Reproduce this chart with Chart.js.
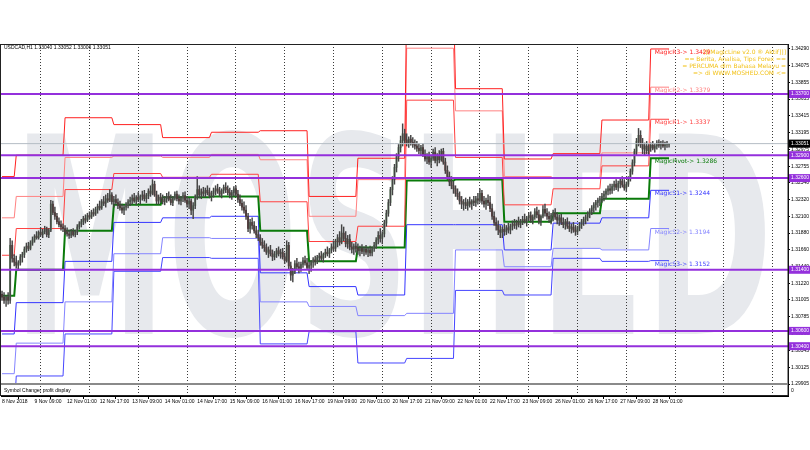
<!DOCTYPE html>
<html>
<head>
<meta charset="utf-8">
<script src="https://cdn.jsdelivr.net/npm/chart.js@4.4.0/dist/chart.umd.min.js"></script>
<style>
  html, body { margin: 0; padding: 0; background: #fff; }
  #wrap { width: 810px; height: 450px; }
</style>
</head>
<body>
<div id="wrap"><canvas id="chart" width="810" height="450"></canvas></div>
<script>
// USDCAD H1, 8 Nov 17:00 -> 28 Nov 09:00 (bar index 0..328)
const opens = [
  1.3108,1.3104,1.3100,1.3104,1.3100,1.3172,1.3155,
  1.3150,1.3146,1.3149,1.3157,1.3160,1.3167,1.3171,1.3168,1.3175,1.3179,1.3184,1.3182,1.3189,1.3186,1.3190,1.3193,1.3186,1.3192,1.3226,1.3215,1.3210,1.3203,1.3199,1.3196,
  1.3194,1.3190,1.3187,1.3185,1.3190,1.3186,1.3189,1.3196,1.3200,1.3203,1.3207,1.3205,1.3211,1.3209,1.3215,1.3213,1.3219,1.3223,1.3221,1.3229,1.3227,1.3233,1.3231,1.3238,
  1.3229,1.3232,1.3228,1.3224,1.3221,1.3218,1.3222,1.3225,1.3229,1.3231,1.3234,1.3230,1.3235,1.3232,1.3236,1.3238,1.3233,1.3237,1.3243,1.3240,1.3252,1.3238,1.3230,1.3235,
  1.3232,1.3229,1.3233,1.3236,1.3232,1.3228,1.3234,1.3239,1.3233,1.3230,1.3234,1.3237,1.3231,1.3226,1.3230,1.3218,1.3224,1.3235,1.3245,1.3238,1.3242,1.3240,1.3244,1.3241,
  1.3237,1.3240,1.3243,1.3246,1.3243,1.3239,1.3244,1.3248,1.3245,1.3241,1.3238,1.3241,1.3246,1.3239,1.3232,1.3227,1.3222,1.3218,1.3210,1.3194,1.3202,1.3198,1.3191,1.3186,
  1.3182,1.3176,1.3172,1.3169,1.3163,1.3166,1.3161,1.3157,1.3160,1.3165,1.3161,1.3163,1.3157,1.3152,1.3172,1.3145,1.3133,1.3138,1.3148,1.3144,1.3142,1.3147,1.3152,1.3149,
  1.3143,1.3146,1.3150,1.3153,1.3151,1.3156,1.3158,1.3155,1.3160,1.3163,1.3161,1.3166,1.3170,1.3168,1.3177,1.3182,1.3176,1.3188,1.3181,1.3174,1.3180,1.3170,1.3167,1.3171,
  1.3168,1.3165,1.3168,1.3164,1.3167,1.3163,1.3166,1.3162,1.3168,1.3172,1.3179,1.3185,1.3181,1.3187,1.3201,1.3214,1.3228,1.3245,1.3258,1.3274,1.3288,1.3300,1.3309,1.3318,
  1.3310,1.3306,1.3311,1.3307,1.3304,1.3302,1.3299,1.3296,1.3300,1.3291,1.3285,1.3288,1.3281,1.3286,1.3294,1.3283,1.3289,1.3284,1.3295,1.3281,1.3270,1.3262,1.3255,1.3250,
  1.3246,1.3240,1.3236,1.3230,1.3226,1.3228,1.3224,1.3229,1.3226,1.3230,1.3228,1.3233,1.3231,1.3240,1.3230,1.3226,1.3231,1.3228,1.3220,1.3210,1.3202,1.3198,1.3192,1.3189,
  1.3193,1.3190,1.3195,1.3192,1.3197,1.3200,1.3198,1.3202,1.3199,1.3204,1.3206,1.3203,1.3208,1.3211,1.3205,1.3209,1.3216,1.3212,1.3204,1.3210,1.3219,1.3214,1.3210,1.3207,
  1.3211,1.3214,1.3209,1.3205,1.3208,1.3202,1.3199,1.3203,1.3197,1.3194,1.3196,1.3192,1.3190,1.3195,1.3199,1.3203,1.3206,1.3209,1.3213,1.3217,1.3221,1.3225,1.3228,1.3231,
  1.3233,1.3236,1.3239,1.3243,1.3246,1.3244,1.3249,1.3252,1.3248,1.3253,1.3256,1.3251,1.3247,1.3252,1.3259,1.3269,1.3280,1.3295,1.3308,1.3316,1.3304,1.3298,1.3302,1.3296,
  1.3300,1.3303,1.3299,1.3302,1.3306,1.3303,1.3305,1.3302,1.3304,1.33040
];
const highs = [
  1.3112,1.3110,1.3106,1.3110,1.3181,1.3178,1.3160,
  1.3158,1.3152,1.3160,1.3163,1.3170,1.3175,1.3176,1.3178,1.3183,1.3186,1.3190,1.3191,1.3195,1.3193,1.3197,1.3196,1.3194,1.3231,1.3230,1.3222,1.3214,1.3208,1.3204,1.3200,
  1.3198,1.3195,1.3192,1.3193,1.3194,1.3192,1.3199,1.3203,1.3206,1.3210,1.3212,1.3214,1.3216,1.3218,1.3220,1.3222,1.3226,1.3230,1.3232,1.3236,1.3238,1.3240,1.3245,1.3241,
  1.3236,1.3238,1.3233,1.3230,1.3226,1.3224,1.3228,1.3232,1.3235,1.3238,1.3240,1.3237,1.3241,1.3238,1.3243,1.3244,1.3240,1.3246,1.3250,1.3258,1.3256,1.3243,1.3238,1.3240,
  1.3238,1.3236,1.3240,1.3242,1.3238,1.3236,1.3242,1.3243,1.3238,1.3236,1.3241,1.3242,1.3236,1.3234,1.3233,1.3228,1.3238,1.3262,1.3250,1.3246,1.3248,1.3247,1.3250,1.3247,
  1.3243,1.3247,1.3250,1.3252,1.3248,1.3246,1.3251,1.3254,1.3250,1.3247,1.3244,1.3249,1.3250,1.3244,1.3238,1.3232,1.3229,1.3224,1.3214,1.3206,1.3208,1.3203,1.3197,1.3192,
  1.3186,1.3181,1.3178,1.3174,1.3170,1.3172,1.3166,1.3164,1.3168,1.3170,1.3167,1.3168,1.3162,1.3178,1.3176,1.3150,1.3142,1.3152,1.3155,1.3150,1.3150,1.3156,1.3158,1.3155,
  1.3150,1.3152,1.3156,1.3158,1.3159,1.3162,1.3164,1.3162,1.3167,1.3170,1.3168,1.3174,1.3178,1.3180,1.3186,1.3190,1.3199,1.3196,1.3190,1.3185,1.3186,1.3176,1.3174,1.3176,
  1.3174,1.3171,1.3173,1.3170,1.3172,1.3169,1.3171,1.3170,1.3176,1.3182,1.3190,1.3194,1.3190,1.3205,1.3218,1.3232,1.3248,1.3262,1.3278,1.3292,1.3304,1.3315,1.3331,1.3324,
  1.3318,1.3314,1.3316,1.3313,1.3310,1.3308,1.3305,1.3303,1.3305,1.3297,1.3292,1.3294,1.3290,1.3298,1.3300,1.3292,1.3296,1.3298,1.3299,1.3286,1.3276,1.3268,1.3262,1.3256,
  1.3250,1.3246,1.3242,1.3236,1.3232,1.3234,1.3232,1.3235,1.3232,1.3236,1.3236,1.3240,1.3246,1.3244,1.3236,1.3234,1.3238,1.3236,1.3226,1.3216,1.3208,1.3204,1.3198,1.3196,
  1.3200,1.3198,1.3201,1.3200,1.3204,1.3206,1.3205,1.3209,1.3206,1.3210,1.3213,1.3210,1.3215,1.3216,1.3212,1.3220,1.3222,1.3218,1.3212,1.3224,1.3226,1.3220,1.3216,1.3214,
  1.3218,1.3220,1.3215,1.3212,1.3213,1.3208,1.3206,1.3208,1.3203,1.3200,1.3202,1.3198,1.3197,1.3202,1.3206,1.3209,1.3212,1.3216,1.3220,1.3224,1.3228,1.3231,1.3234,1.3236,
  1.3240,1.3243,1.3246,1.3250,1.3252,1.3252,1.3256,1.3258,1.3256,1.3260,1.3262,1.3258,1.3255,1.3262,1.3272,1.3284,1.3298,1.3312,1.3325,1.3322,1.3312,1.3306,1.3308,1.3304,
  1.3306,1.3308,1.3305,1.3309,1.3310,1.3308,1.3309,1.3307,1.3308,1.33052
];
const lows = [
  1.3100,1.3096,1.3092,1.3095,1.3096,1.3150,1.3145,
  1.3142,1.3140,1.3146,1.3150,1.3156,1.3163,1.3165,1.3166,1.3172,1.3176,1.3180,1.3180,1.3184,1.3182,1.3187,1.3183,1.3182,1.3190,1.3212,1.3206,1.3200,1.3196,1.3192,1.3190,
  1.3186,1.3184,1.3181,1.3182,1.3184,1.3183,1.3186,1.3193,1.3196,1.3199,1.3201,1.3203,1.3206,1.3207,1.3210,1.3211,1.3214,1.3218,1.3219,1.3224,1.3222,1.3228,1.3229,1.3226,
  1.3222,1.3226,1.3220,1.3218,1.3214,1.3212,1.3218,1.3221,1.3224,1.3226,1.3228,1.3225,1.3229,1.3226,1.3231,1.3230,1.3228,1.3233,1.3236,1.3238,1.3236,1.3226,1.3226,1.3228,
  1.3226,1.3225,1.3228,1.3230,1.3225,1.3224,1.3231,1.3230,1.3226,1.3225,1.3229,1.3228,1.3222,1.3220,1.3212,1.3207,1.3220,1.3232,1.3234,1.3233,1.3236,1.3235,1.3238,1.3234,
  1.3230,1.3235,1.3238,1.3240,1.3236,1.3234,1.3240,1.3241,1.3238,1.3234,1.3232,1.3237,1.3236,1.3228,1.3224,1.3218,1.3214,1.3206,1.3190,1.3188,1.3193,1.3188,1.3182,1.3178,
  1.3172,1.3168,1.3164,1.3160,1.3156,1.3158,1.3152,1.3153,1.3156,1.3158,1.3155,1.3154,1.3148,1.3150,1.3140,1.3126,1.3124,1.3135,1.3140,1.3136,1.3138,1.3143,1.3146,1.3140,
  1.3135,1.3138,1.3143,1.3146,1.3148,1.3151,1.3152,1.3150,1.3156,1.3158,1.3156,1.3162,1.3165,1.3164,1.3170,1.3172,1.3174,1.3178,1.3170,1.3168,1.3166,1.3162,1.3160,1.3163,
  1.3160,1.3158,1.3161,1.3158,1.3160,1.3157,1.3158,1.3158,1.3164,1.3168,1.3174,1.3176,1.3174,1.3183,1.3197,1.3210,1.3224,1.3238,1.3252,1.3268,1.3282,1.3294,1.3302,1.3305,
  1.3302,1.3300,1.3303,1.3300,1.3298,1.3295,1.3292,1.3290,1.3288,1.3282,1.3279,1.3278,1.3274,1.3283,1.3280,1.3276,1.3280,1.3282,1.3278,1.3266,1.3258,1.3250,1.3246,1.3240,
  1.3236,1.3232,1.3226,1.3220,1.3218,1.3220,1.3218,1.3222,1.3219,1.3224,1.3223,1.3226,1.3228,1.3226,1.3222,1.3219,1.3224,1.3216,1.3206,1.3198,1.3192,1.3186,1.3182,1.3182,
  1.3185,1.3186,1.3188,1.3187,1.3192,1.3194,1.3193,1.3196,1.3195,1.3199,1.3201,1.3197,1.3204,1.3202,1.3200,1.3206,1.3208,1.3200,1.3198,1.3208,1.3210,1.3206,1.3202,1.3200,
  1.3204,1.3206,1.3200,1.3198,1.3199,1.3195,1.3193,1.3194,1.3190,1.3188,1.3189,1.3185,1.3186,1.3191,1.3194,1.3198,1.3200,1.3204,1.3208,1.3212,1.3215,1.3218,1.3222,1.3224,
  1.3228,1.3230,1.3233,1.3238,1.3239,1.3240,1.3244,1.3245,1.3243,1.3247,1.3248,1.3244,1.3242,1.3249,1.3256,1.3265,1.3276,1.3290,1.3302,1.3300,1.3292,1.3290,1.3292,1.3290,
  1.3295,1.3297,1.3294,1.3298,1.3300,1.3298,1.3300,1.3297,1.3300,1.33006
];
const closes = [
  1.3104,1.3100,1.3104,1.3100,1.3172,1.3155,1.3150,
  1.3146,1.3149,1.3157,1.3160,1.3167,1.3171,1.3168,1.3175,1.3179,1.3184,1.3182,1.3189,1.3186,1.3190,1.3193,1.3186,1.3192,1.3226,1.3215,1.3210,1.3203,1.3199,1.3196,1.3194,
  1.3190,1.3187,1.3185,1.3190,1.3186,1.3189,1.3196,1.3200,1.3203,1.3207,1.3205,1.3211,1.3209,1.3215,1.3213,1.3219,1.3223,1.3221,1.3229,1.3227,1.3233,1.3231,1.3238,1.3229,
  1.3232,1.3228,1.3224,1.3221,1.3218,1.3222,1.3225,1.3229,1.3231,1.3234,1.3230,1.3235,1.3232,1.3236,1.3238,1.3233,1.3237,1.3243,1.3240,1.3252,1.3238,1.3230,1.3235,1.3232,
  1.3229,1.3233,1.3236,1.3232,1.3228,1.3234,1.3239,1.3233,1.3230,1.3234,1.3237,1.3231,1.3226,1.3230,1.3218,1.3224,1.3235,1.3245,1.3238,1.3242,1.3240,1.3244,1.3241,1.3237,
  1.3240,1.3243,1.3246,1.3243,1.3239,1.3244,1.3248,1.3245,1.3241,1.3238,1.3241,1.3246,1.3239,1.3232,1.3227,1.3222,1.3218,1.3210,1.3194,1.3202,1.3198,1.3191,1.3186,1.3182,
  1.3176,1.3172,1.3169,1.3163,1.3166,1.3161,1.3157,1.3160,1.3165,1.3161,1.3163,1.3157,1.3152,1.3172,1.3145,1.3133,1.3138,1.3148,1.3144,1.3142,1.3147,1.3152,1.3149,1.3143,
  1.3146,1.3150,1.3153,1.3151,1.3156,1.3158,1.3155,1.3160,1.3163,1.3161,1.3166,1.3170,1.3168,1.3177,1.3182,1.3176,1.3188,1.3181,1.3174,1.3180,1.3170,1.3167,1.3171,1.3168,
  1.3165,1.3168,1.3164,1.3167,1.3163,1.3166,1.3162,1.3168,1.3172,1.3179,1.3185,1.3181,1.3187,1.3201,1.3214,1.3228,1.3245,1.3258,1.3274,1.3288,1.3300,1.3309,1.3318,1.3310,
  1.3306,1.3311,1.3307,1.3304,1.3302,1.3299,1.3296,1.3300,1.3291,1.3285,1.3288,1.3281,1.3286,1.3294,1.3283,1.3289,1.3284,1.3295,1.3281,1.3270,1.3262,1.3255,1.3250,1.3246,
  1.3240,1.3236,1.3230,1.3226,1.3228,1.3224,1.3229,1.3226,1.3230,1.3228,1.3233,1.3231,1.3240,1.3230,1.3226,1.3231,1.3228,1.3220,1.3210,1.3202,1.3198,1.3192,1.3189,1.3193,
  1.3190,1.3195,1.3192,1.3197,1.3200,1.3198,1.3202,1.3199,1.3204,1.3206,1.3203,1.3208,1.3211,1.3205,1.3209,1.3216,1.3212,1.3204,1.3210,1.3219,1.3214,1.3210,1.3207,1.3211,
  1.3214,1.3209,1.3205,1.3208,1.3202,1.3199,1.3203,1.3197,1.3194,1.3196,1.3192,1.3190,1.3195,1.3199,1.3203,1.3206,1.3209,1.3213,1.3217,1.3221,1.3225,1.3228,1.3231,1.3233,
  1.3236,1.3239,1.3243,1.3246,1.3244,1.3249,1.3252,1.3248,1.3253,1.3256,1.3251,1.3247,1.3252,1.3259,1.3269,1.3280,1.3295,1.3308,1.3316,1.3304,1.3298,1.3302,1.3296,1.3300,
  1.3303,1.3299,1.3302,1.3306,1.3303,1.3305,1.3302,1.3304,1.3304,1.33051
];

// daily pivot levels: 8,9,12,13,14,15,16,19,20,21,22,23,26,27,28 Nov
const dayStarts = [0, 7, 31, 55, 79, 103, 127, 151, 175, 199, 223, 247, 271, 295, 319];
const lastBar = 328;
const r3 = [1.3262, 1.3290, 1.3339, 1.3330, 1.3313, 1.3320, 1.3322, 1.3236, 1.3286, 1.3498, 1.3377, 1.3285, 1.3292, 1.3336, 1.3429];
const r2 = [1.3208, 1.3236, 1.3287, 1.3289, 1.3287, 1.3291, 1.3284, 1.3210, 1.3258, 1.3430, 1.3348, 1.3262, 1.3260, 1.3293, 1.3379];
const r1 = [1.3159, 1.3194, 1.3245, 1.3266, 1.3261, 1.3265, 1.3229, 1.3177, 1.3197, 1.3362, 1.3287, 1.3225, 1.3246, 1.3276, 1.3337];
const pv = [1.3106, 1.3140, 1.3191, 1.3225, 1.3235, 1.3236, 1.3191, 1.3151, 1.3169, 1.3257, 1.3258, 1.3203, 1.3214, 1.3233, 1.3286];
const s1 = [1.3056, 1.3097, 1.3151, 1.3202, 1.3208, 1.3210, 1.3136, 1.3118, 1.3107, 1.3199, 1.3199, 1.3166, 1.3201, 1.3208, 1.3244];
const s2 = [1.3004, 1.3044, 1.3098, 1.3161, 1.3182, 1.3181, 1.3098, 1.3092, 1.3080, 1.3083, 1.3166, 1.3144, 1.3168, 1.3166, 1.3194];
const s3 = [1.2954, 1.3001, 1.3056, 1.3138, 1.3156, 1.3155, 1.3043, 1.3059, 1.3018, 1.3024, 1.3113, 1.3107, 1.3155, 1.3151, 1.3152];

const purpleLevels = [1.33700, 1.32900, 1.32600, 1.31400, 1.30600, 1.30400];
const bidPrice = 1.33051;

const tickBars = [0, 16, 32, 48, 64, 80, 96, 112, 128, 144, 160, 176, 192, 208, 224, 240, 256, 272, 288, 304, 320];
const tickLabels = ['8 Nov 2018', '9 Nov 09:00', '12 Nov 01:00', '12 Nov 17:00', '13 Nov 09:00', '14 Nov 01:00',
  '14 Nov 17:00', '15 Nov 09:00', '16 Nov 01:00', '16 Nov 17:00', '19 Nov 09:00', '20 Nov 01:00', '20 Nov 17:00',
  '21 Nov 09:00', '22 Nov 01:00', '22 Nov 17:00', '23 Nov 09:00', '26 Nov 01:00', '26 Nov 17:00', '27 Nov 09:00', '28 Nov 01:00'];
const gridBars = [7, 31, 55, 79, 103, 127, 151, 175, 199, 223, 247, 271, 295, 319, 343, 367];
const priceTicks = [1.34290, 1.34075, 1.33855, 1.33635, 1.33415, 1.33195, 1.32975, 1.32755, 1.32540, 1.32320, 1.32100,
  1.31880, 1.31660, 1.31440, 1.31220, 1.31005, 1.30785, 1.30565, 1.30345, 1.30125, 1.29905];

const levelNames = ['MagicR3', 'MagicR2', 'MagicR1', 'MagicPivot', 'MagicS1', 'MagicS2', 'MagicS3'];
const levelColors = ['#ff2020', '#ff8282', '#ff4040', '#0a7a0a', '#3535ff', '#8484ff', '#4646ff'];
const infoLines = ['[[[MagicLine v2.0 \u00ae Aktif]]]', '== Berita, Analisa, Tips Forex ==',
  '= PERCUMA dlm Bahasa Melayu =', '=> di WWW.MOSHED.COM <='];
const title = 'USDCAD,H1 1.33040 1.33052 1.33006 1.33051';
const watermark = 'MOSHED';

const xMin = -0.5, xMax = 386.5;
const yMin = 1.29748, yMax = 1.34355;
const purple = '#9430dc';
const font = 'Liberation Sans';
const clipMain = { left: 0, top: 0, right: 0, bottom: -12 };

function levelPoints(levels) {
  const pts = [];
  dayStarts.forEach((start, d) => {
    const end = d < dayStarts.length - 1 ? dayStarts[d + 1] - 1 : lastBar;
    pts.push({ x: start, y: levels[d] }, { x: end, y: levels[d] });
  });
  return pts;
}

const levelSets = [r3, r2, r1, pv, s1, s2, s3];
const datasets = [];

purpleLevels.forEach(v => datasets.push({
  type: 'line', data: [{ x: xMin, y: v }, { x: xMax, y: v }],
  borderColor: purple, borderWidth: 2, pointRadius: 0, order: 0, clip: clipMain
}));
datasets.push({
  type: 'line', data: [{ x: xMin, y: bidPrice }, { x: xMax, y: bidPrice }],
  borderColor: '#b4bcc4', borderWidth: 1, pointRadius: 0, order: 0, clip: clipMain
});

datasets.push({
  type: 'bar', grouped: false, order: 1, clip: clipMain,
  data: closes.map((c, i) => ({ x: i, y: [lows[i], highs[i]] })),
  backgroundColor: '#444444', barThickness: 0.8
});
datasets.push({
  type: 'bar', grouped: false, order: 1, clip: clipMain, minBarLength: 1,
  data: closes.map((c, i) => ({ x: i, y: [opens[i], c] })),
  backgroundColor: closes.map((c, i) => c >= opens[i] ? '#6f946f' : '#6a2a2a'),
  barThickness: 1.3
});

levelSets.forEach((lv, k) => datasets.push({
  type: 'line', data: levelPoints(lv), borderColor: levelColors[k],
  borderWidth: k === 3 ? 2 : 1, pointRadius: 0, order: 2, clip: clipMain
}));

const backdrop = {
  id: 'backdrop',
  beforeDraw(chart) {
    const { ctx } = chart;
    ctx.save();
    ctx.fillStyle = '#fff';
    ctx.fillRect(0, 0, chart.width, chart.height);
    ctx.fillStyle = '#e7e9ed';
    ctx.font = 'bold 275px "DejaVu Sans"';
    const w = ctx.measureText(watermark).width;
    ctx.translate(393, 334);
    ctx.scale(760 / w, 1);
    ctx.textAlign = 'center';
    ctx.textBaseline = 'alphabetic';
    ctx.fillText(watermark, 0, 0);
    ctx.restore();
  }
};

const overlay = {
  id: 'overlay',
  afterDraw(chart) {
    const { ctx, chartArea: a, scales: { x, y } } = chart;
    ctx.save();
    // frame + indicator sub window separator
    ctx.strokeStyle = '#222';
    ctx.lineWidth = 1;
    ctx.strokeRect(a.left - 0.5, a.top + 0.5, a.right - a.left + 0.5, a.bottom - a.top - 1);
    ctx.fillStyle = '#8a8a8a';
    ctx.fillRect(a.left, 383, a.right - a.left, 2);
    ctx.fillStyle = '#000';
    ctx.font = '5px "' + font + '"';
    ctx.textBaseline = 'middle';
    ctx.textAlign = 'left';
    ctx.fillText('Symbol Changer profit display', 4, 391);
    ctx.fillText('0', a.right + 3, 391);
    ctx.fillText(title, 4, 48);
    // info text
    ctx.fillStyle = '#f2c21a';
    ctx.font = '6px "DejaVu Sans"';
    ctx.textAlign = 'right';
    infoLines.forEach((t, i) => ctx.fillText(t, 786, 52 + i * 7.3));
    // level labels on the last day
    const last = dayStarts.length - 1;
    const lx = x.getPixelForValue(dayStarts[last]) + 4;
    ctx.textAlign = 'left';
    ctx.textBaseline = 'top';
    ctx.font = '6px "DejaVu Sans"';
    levelSets.forEach((lv, k) => {
      ctx.fillStyle = levelColors[k];
      ctx.fillText(levelNames[k] + '-> ' + lv[last].toFixed(4), lx, y.getPixelForValue(lv[last]) + 0.5);
    });
    ctx.restore();
  }
};

new Chart(document.getElementById('chart'), {
  type: 'bar',
  data: { datasets },
  plugins: [backdrop, overlay],
  options: {
    responsive: false,
    animation: false,
    events: [],
    layout: { padding: { left: 1, top: 44, right: 0, bottom: 0 } },
    plugins: { legend: { display: false }, tooltip: { enabled: false } },
    scales: {
      x: {
        type: 'linear', position: 'bottom', min: xMin, max: xMax, offset: false,
        afterBuildTicks: s => { s.ticks = tickBars.map(v => ({ value: v })); },
        afterFit: s => { s.height = 54; },
        grid: { display: true, drawOnChartArea: false, drawTicks: true, tickLength: 3, color: '#000' },
        border: { display: true, color: '#000' },
        ticks: {
          autoSkip: false, maxRotation: 0, align: 'start', padding: 0, color: '#000',
          font: { family: font, size: 5 },
          callback: (v, i) => tickLabels[i]
        }
      },
      x2: {
        type: 'linear', position: 'top', min: xMin, max: xMax, offset: false,
        afterBuildTicks: s => { s.ticks = gridBars.map(v => ({ value: v })); },
        afterFit: s => { s.height = 0; },
        grid: { display: true, drawTicks: false, color: '#3a3a3a', lineWidth: 1 },
        border: { display: false, dash: [1, 2] },
        ticks: { display: false }
      },
      y: {
        type: 'linear', position: 'right', min: yMin, max: yMax,
        afterBuildTicks: s => {
          s.ticks = priceTicks.concat(purpleLevels, [bidPrice]).map(v => ({ value: v }));
        },
        afterFit: s => { s.width = 22; },
        grid: { display: true, drawOnChartArea: false, tickLength: 2, color: '#000' },
        border: { display: true, color: '#000' },
        ticks: {
          autoSkip: false, padding: 1,
          font: { family: font, size: 5 },
          callback: v => v.toFixed(5),
          showLabelBackdrop: true,
          backdropPadding: { top: 1, bottom: 1, left: 2, right: 4 },
          backdropColor: c => c.tick && c.tick.value === bidPrice ? '#000'
            : (c.tick && purpleLevels.includes(c.tick.value) ? purple : 'rgba(0,0,0,0)'),
          color: c => c.tick && (c.tick.value === bidPrice || purpleLevels.includes(c.tick.value)) ? '#fff' : '#000'
        }
      }
    }
  }
});
</script>
</body>
</html>
